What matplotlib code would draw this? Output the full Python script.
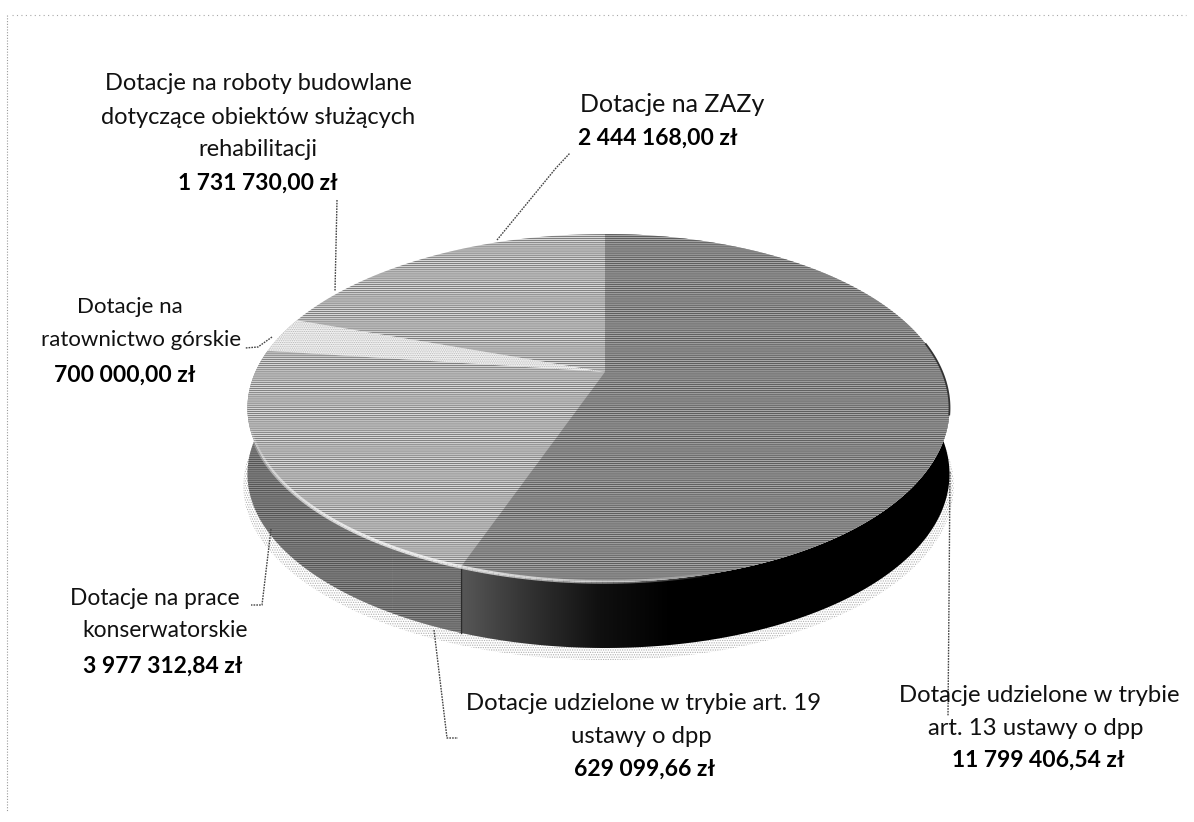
import numpy as np
import matplotlib
matplotlib.use('Agg')
import matplotlib.pyplot as plt
from matplotlib.patches import Polygon
from matplotlib.collections import LineCollection
from matplotlib.colors import LinearSegmentedColormap

names = [
    "Dotacje udzielone w trybie art. 13 ustawy o dpp",
    "Dotacje udzielone w trybie art. 19 ustawy o dpp",
    "Dotacje na prace konserwatorskie",
    "Dotacje na ratownictwo górskie",
    "Dotacje na roboty budowlane dotyczące obiektów służących rehabilitacji",
    "Dotacje na ZAZy",
]
values = [11799406.54, 629099.66, 3977312.84, 700000.00, 1731730.00, 2444168.00]
label_lines = [
    ["Dotacje udzielone w trybie", "art. 13 ustawy o dpp"],
    ["Dotacje udzielone w trybie art. 19", "ustawy o dpp"],
    ["Dotacje na prace", "konserwatorskie"],
    ["Dotacje na", "ratownictwo górskie"],
    ["Dotacje na roboty budowlane", "dotyczące obiektów służących", "rehabilitacji"],
    ["Dotacje na ZAZy"],
]

plt.rcParams['font.family'] = ['Lato', 'DejaVu Sans']
plt.rcParams['hatch.linewidth'] = 0.6

fig = plt.figure(figsize=(11.94, 8.22), dpi=100)
ax = fig.add_axes([0, 0, 1, 1])

# Pie geometry in pixels, the disc is seen in perspective
cx, cy, rx, ry = 598.5, 408, 351, 174
k = -0.207
depth = 66


def project(phi, r=1.0):
    # phi runs clockwise from the top, radians
    u = r * np.sin(phi)
    v = -r * np.cos(phi)
    den = 1 + k * v
    X = u * np.sqrt(1 - k ** 2) / den
    Y = (v + k) / den
    return cx + rx * X + 6.5 * (1 - X ** 2), cy + ry * Y


def arc(a0, a1, n=200):
    return project(np.linspace(a0, a1, n))


fractions = np.array(values) / sum(values)
edges = np.concatenate([[0], np.cumsum(fractions)]) * 2 * np.pi

# Soft dotted shadow under the pie
sx, sy = project(np.linspace(0, 2 * np.pi, 400))
shadow = np.column_stack([cx + (sx - cx) * 1.012, sy + depth + 12])
ax.add_patch(Polygon(shadow, closed=True, facecolor='white', edgecolor='#b0b0b0',
                     hatch='.......', linewidth=0, zorder=1))

# Side walls, the front ones only show
side_face = ['#000000', '#8c8c8c', '#8c8c8c']
side_hatch = ['#000000', '#4a4a4a', '#4a4a4a']
for i in range(3):
    x, y = arc(edges[i], edges[i + 1])
    pts = np.column_stack([np.r_[x, x[::-1]], np.r_[y, y[::-1] + depth]])
    if i == 0:
        wall = Polygon(pts, closed=True, facecolor='none', edgecolor='none', zorder=2)
        ax.add_patch(wall)
        cmap = LinearSegmentedColormap.from_list('wall', ['#5a5a5a', '#333333', '#101010', '#000000', '#000000',
                                                         '#000000', '#000000', '#000000'])
        im = ax.imshow(np.linspace(0, 1, 256).reshape(1, -1), extent=[455, 960, 700, 380], cmap=cmap,
                       aspect='auto', zorder=2)
        im.set_clip_path(wall)
    else:
        ax.add_patch(Polygon(pts, closed=True, facecolor=side_face[i], edgecolor=side_hatch[i],
                             hatch='--------', linewidth=0, zorder=2))

# Base disc keeps the seams between like-coloured slices closed
bx, by = arc(0, 2 * np.pi, 400)
ax.add_patch(Polygon(np.column_stack([bx, by]), closed=True, facecolor='#d8d8d8', edgecolor='#6e6e6e',
                     hatch='--------', linewidth=0, zorder=3))

# Top faces, the two lookalike pairs are left to the base disc
top_face = {0: '#a6a6a6', 3: '#f4f4f4'}
top_hatch = {0: '#505050', 3: '#b4b4b4'}
top_style = {0: '--------', 3: '.........'}
ax0, ay0 = project(np.array(0.0), 0.0)
for i in top_face:
    x, y = arc(edges[i], edges[i + 1])
    pts = np.column_stack([np.r_[ax0, x], np.r_[ay0, y]])
    ax.add_patch(Polygon(pts, closed=True, facecolor=top_face[i], edgecolor=top_hatch[i],
                         hatch=top_style[i], linewidth=0, zorder=3))

# Dark edge on the side wall where the big slice ends
x, y = arc(edges[0], edges[1])
ax.plot([x[-1], x[-1]], [y[-1], y[-1] + depth], color='#2a2a2a', linewidth=1, zorder=4)

# Light highlight along the front rim
hx, hy = arc(np.radians(165), np.radians(252), 120)
segs = np.stack([np.column_stack([hx[:-1], hy[:-1]]), np.column_stack([hx[1:], hy[1:]])], axis=1)
fade = np.sin(np.linspace(0, np.pi, len(segs))) ** 0.7
colors = np.zeros((len(segs), 4))
colors[:, :3] = 1.0
colors[:, 3] = fade * 0.75
ax.add_collection(LineCollection(segs, colors=colors, linewidths=2.6, zorder=5))

# Right rim of the big slice is a bit darker
rx_, ry_ = arc(np.radians(80), np.radians(104), 60)
ax.plot(rx_, ry_, color='#333333', linewidth=1.3, zorder=5)

# Leader lines
leaders = [
    ([950, 949, 948], [472, 600, 716]),
    ([434, 447, 458], [630, 738, 738]),
    ([271, 262, 251], [529, 605, 605]),
    ([272, 258, 245], [337, 347, 348]),
    ([337, 335], [200, 291]),
    ([497, 556, 570], [240, 168, 153]),
]
for lx, ly in leaders:
    ax.plot(lx, ly, color='#444444', linewidth=1, linestyle=(0, (1.2, 0.8)), zorder=6)

# Frame of the chart area, only faint dots remain
ax.plot([12, 1186], [15, 15], color='#a8a8a8', linewidth=0.8, linestyle=(0, (1, 3)), zorder=1)
ax.plot([7, 7], [15, 812], color='#9a9a9a', linewidth=0.8, linestyle=(0, (1, 1.5)), zorder=1)

# Labels, text centre x and row y per line
positions = [
    ([1039, 1036, 1038], [695, 728, 760]),
    ([644, 641, 644], [703, 736, 769]),
    ([155, 165, 163], [598, 630, 666]),
    ([130, 141, 125], [307, 340, 375]),
    ([258, 258, 258, 258], [84, 117, 150, 183]),
    ([672, 658], [105, 138]),
]
label_sizes = [17.2, 17.2, 16.4, 16, 17, 18]
for lines, val, (px, py), size in zip(label_lines, values, positions, label_sizes):
    amount = f"{val:,.2f}".replace(",", " ").replace(".", ",") + " zł"
    for j, line in enumerate(lines):
        ax.text(px[j], py[j], line, ha='center', va='center', fontsize=size, color='#111111', zorder=7)
    ax.text(px[-1], py[-1], amount, ha='center', va='center', fontsize=16.5, fontweight='bold',
            color='#000000', zorder=7)

ax.set_xlim(0, 1194)
ax.set_ylim(822, 0)
ax.axis('off')

plt.savefig('out.png', dpi=100, facecolor='white')
